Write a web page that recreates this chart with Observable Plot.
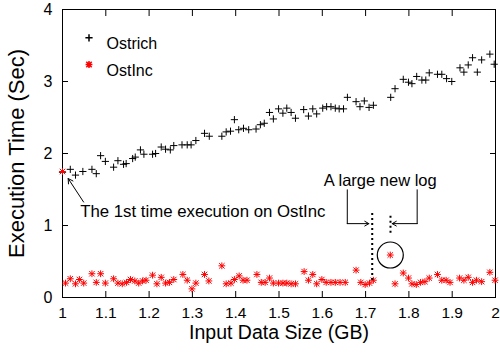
<!DOCTYPE html>
<html><head><meta charset="utf-8">
<script src="https://cdn.jsdelivr.net/npm/d3@7"></script>
<script src="https://cdn.jsdelivr.net/npm/@observablehq/plot@0.6"></script>
<style>body{margin:0;background:#fff} svg{display:block}</style>
</head><body><div id="chart"></div>
<script>
const seriesNames = ["Ostrich", "OstInc"];
const ostrichX = [1.000,1.018,1.030,1.047,1.068,1.078,1.088,1.099,1.118,1.128,1.141,1.147,1.162,1.168,1.180,1.188,1.208,1.215,1.228,1.238,1.249,1.257,1.276,1.288,1.297,1.308,1.328,1.339,1.368,1.378,1.388,1.397,1.407,1.418,1.430,1.447,1.457,1.466,1.478,1.487,1.499,1.509,1.518,1.528,1.538,1.557,1.568,1.578,1.587,1.601,1.610,1.620,1.630,1.639,1.649,1.658,1.678,1.687,1.697,1.708,1.718,1.758,1.768,1.787,1.799,1.807,1.818,1.830,1.839,1.847,1.866,1.876,1.887,1.899,1.918,1.927,1.937,1.947,1.958,1.968,1.987,1.997];
const ostrichY = [1.74,1.78,1.70,1.75,1.78,1.72,1.97,1.89,1.81,1.90,1.85,1.86,1.93,1.95,2.05,1.99,1.99,2.00,2.09,2.06,2.05,2.11,2.12,2.12,2.12,2.18,2.28,2.24,2.24,2.30,2.31,2.47,2.33,2.35,2.33,2.34,2.40,2.42,2.57,2.48,2.62,2.56,2.63,2.57,2.49,2.61,2.52,2.62,2.55,2.63,2.65,2.65,2.63,2.62,2.62,2.78,2.72,2.65,2.73,2.64,2.67,2.78,2.90,3.03,2.99,2.97,3.07,3.02,3.02,3.12,3.10,3.10,3.04,3.00,3.19,3.13,3.23,3.33,3.13,3.30,3.38,3.24];
const ostincX = [1.000,1.007,1.018,1.030,1.039,1.049,1.068,1.078,1.088,1.099,1.118,1.128,1.138,1.148,1.157,1.167,1.176,1.185,1.193,1.208,1.218,1.228,1.238,1.247,1.257,1.278,1.288,1.299,1.308,1.328,1.338,1.368,1.378,1.389,1.397,1.408,1.417,1.426,1.449,1.459,1.468,1.478,1.487,1.499,1.509,1.518,1.528,1.538,1.558,1.568,1.578,1.587,1.599,1.609,1.620,1.630,1.641,1.653,1.678,1.689,1.699,1.709,1.718,1.757,1.768,1.787,1.799,1.807,1.817,1.827,1.837,1.847,1.866,1.876,1.886,1.895,1.917,1.927,1.937,1.947,1.956,1.968,1.987,1.999];
const ostincY = [1.75,0.20,0.26,0.19,0.25,0.20,0.33,0.21,0.33,0.20,0.26,0.20,0.19,0.21,0.25,0.23,0.20,0.23,0.24,0.31,0.19,0.28,0.20,0.21,0.25,0.32,0.24,0.12,0.20,0.32,0.23,0.44,0.19,0.20,0.25,0.30,0.24,0.24,0.32,0.21,0.21,0.27,0.20,0.20,0.20,0.20,0.19,0.19,0.36,0.24,0.32,0.19,0.25,0.21,0.21,0.21,0.21,0.21,0.38,0.21,0.18,0.20,0.24,0.59,0.19,0.34,0.27,0.19,0.18,0.21,0.22,0.27,0.32,0.24,0.24,0.21,0.27,0.24,0.28,0.21,0.24,0.22,0.35,0.24];
const xTicks = [1,1.1,1.2,1.3,1.4,1.5,1.6,1.7,1.8,1.9,2];
const xTickLabels = ["1","1.1","1.2","1.3","1.4","1.5","1.6","1.7","1.8","1.9","2"];
const yTicks = [0,1,2,3,4];
const yTickLabels = ["0","1","2","3","4"];
const xTitle = "Input Data Size (GB)";
const yTitle = "Execution Time (Sec)";
const note1 = "The 1st time execution on OstInc";
const note2 = "A large new log";

const ostrich = ostrichX.map((x, i) => ({x, y: ostrichY[i]}));
const ostinc = ostincX.map((x, i) => ({x, y: ostincY[i]}));
const bigLog = ostinc.slice(1).reduce((a, b) => (b.y > a.y ? b : a));

const plusSym = {draw(ctx, size) {
  const r = Math.sqrt(size / Math.PI);
  ctx.moveTo(-r, 0); ctx.lineTo(r, 0); ctx.moveTo(0, -r); ctx.lineTo(0, r);
}};
const starSym = {draw(ctx, size) {
  const r = Math.sqrt(size / Math.PI), d = r * 0.8;
  ctx.moveTo(-r, 0); ctx.lineTo(r, 0); ctx.moveTo(0, -r); ctx.lineTo(0, r);
  ctx.moveTo(-d, -d); ctx.lineTo(d, d); ctx.moveTo(-d, d); ctx.lineTo(d, -d);
}};
const fmt = (ticks, labels) => d => labels[ticks.indexOf(d)];

const plot = Plot.plot({
  width: 500, height: 353,
  marginLeft: 62, marginRight: 5, marginTop: 9, marginBottom: 56,
  style: {fontFamily: "'Liberation Sans', Arial, Helvetica, sans-serif", background: "#fff", color: "#000"},
  x: {domain: [1, 2]},
  y: {domain: [0, 4]},
  marks: [
    Plot.frame({stroke: "#000", strokeWidth: 1}),
    Plot.axisX({anchor: "bottom", ticks: xTicks, tickSize: -6, tickPadding: 15.5, tickFormat: fmt(xTicks, xTickLabels), fontSize: 15.5, label: null}),
    Plot.axisX({anchor: "top", ticks: xTicks, tickSize: -6, tickFormat: () => "", label: null}),
    Plot.axisY({anchor: "left", ticks: yTicks, tickSize: -6, tickPadding: 16, tickFormat: fmt(yTicks, yTickLabels), fontSize: 16, label: null}),
    Plot.axisY({anchor: "right", ticks: yTicks, tickSize: -6, tickFormat: () => "", label: null}),
    Plot.text([xTitle], {text: d => d, frameAnchor: "bottom", textAnchor: "middle", dy: 41, fontSize: 19.5}),
    Plot.text([yTitle], {text: d => d, frameAnchor: "left", textAnchor: "middle", rotate: -90, dx: -46, fontSize: 22}),
    // data
    Plot.dot(ostrich, {x: "x", y: "y", symbol: plusSym, r: 3.6, stroke: "#000", strokeWidth: 1, fill: "none"}),
    Plot.dot(ostinc, {x: "x", y: "y", symbol: starSym, r: 3.4, stroke: "#ff0000", strokeWidth: 1, fill: "none"}),
    // legend
    Plot.dot([seriesNames[0]], {frameAnchor: "top-left", dx: 26.5, dy: 28.3, symbol: plusSym, r: 3.6, stroke: "#000", fill: "none"}),
    Plot.text([seriesNames[0]], {text: d => d, frameAnchor: "top-left", dx: 44, dy: 28, textAnchor: "start", fontSize: 16}),
    Plot.dot([seriesNames[1]], {frameAnchor: "top-left", dx: 26.5, dy: 55, symbol: starSym, r: 3.4, stroke: "#ff0000", fill: "none"}),
    Plot.text([seriesNames[1]], {text: d => d, frameAnchor: "top-left", dx: 44, dy: 55, textAnchor: "start", fontSize: 16}),
    // annotation 1
    Plot.arrow([{x1: 1.0487, y1: 1.326, x2: 1.0131, y2: 1.652}], {x1: "x1", y1: "y1", x2: "x2", y2: "y2", stroke: "#000", strokeWidth: 1, headLength: 8}),
    Plot.text([{x: 1.0408, y: 1.197, t: note1}], {x: "x", y: "y", text: "t", textAnchor: "start", fontSize: 16.8}),
    // annotation 2
    Plot.text([{x: 1.7338, y: 1.628, t: note2}], {x: "x", y: "y", text: "t", fontSize: 16.5}),
    Plot.line([{x: 1.6577, y: 1.496}, {x: 1.6577, y: 1.026}], {x: "x", y: "y", stroke: "#000", strokeWidth: 1}),
    Plot.line([{x: 1.8191, y: 1.496}, {x: 1.8191, y: 1.026}], {x: "x", y: "y", stroke: "#000", strokeWidth: 1}),
    Plot.arrow([{x1: 1.6577, x2: 1.7075, y: 1.026}], {x1: "x1", x2: "x2", y1: "y", y2: "y", stroke: "#000", strokeWidth: 1, headLength: 7}),
    Plot.arrow([{x1: 1.8191, x2: 1.7615, y: 1.026}], {x1: "x1", x2: "x2", y1: "y", y2: "y", stroke: "#000", strokeWidth: 1, headLength: 7}),
    Plot.ruleX([{x: 1.7153, y1: 0.237, y2: 1.165}], {x: "x", y1: "y1", y2: "y2", stroke: "#000", strokeWidth: 2, strokeDasharray: "2,3"}),
    Plot.ruleX([{x: 1.7575, y1: 0.891, y2: 1.165}], {x: "x", y1: "y1", y2: "y2", stroke: "#000", strokeWidth: 2, strokeDasharray: "2,3"}),
    Plot.dot([bigLog], {x: "x", y: "y", r: 13, stroke: "#000", strokeWidth: 1.2, fill: "none"})
  ]
});
document.getElementById("chart").appendChild(plot);
</script>
</body></html>
